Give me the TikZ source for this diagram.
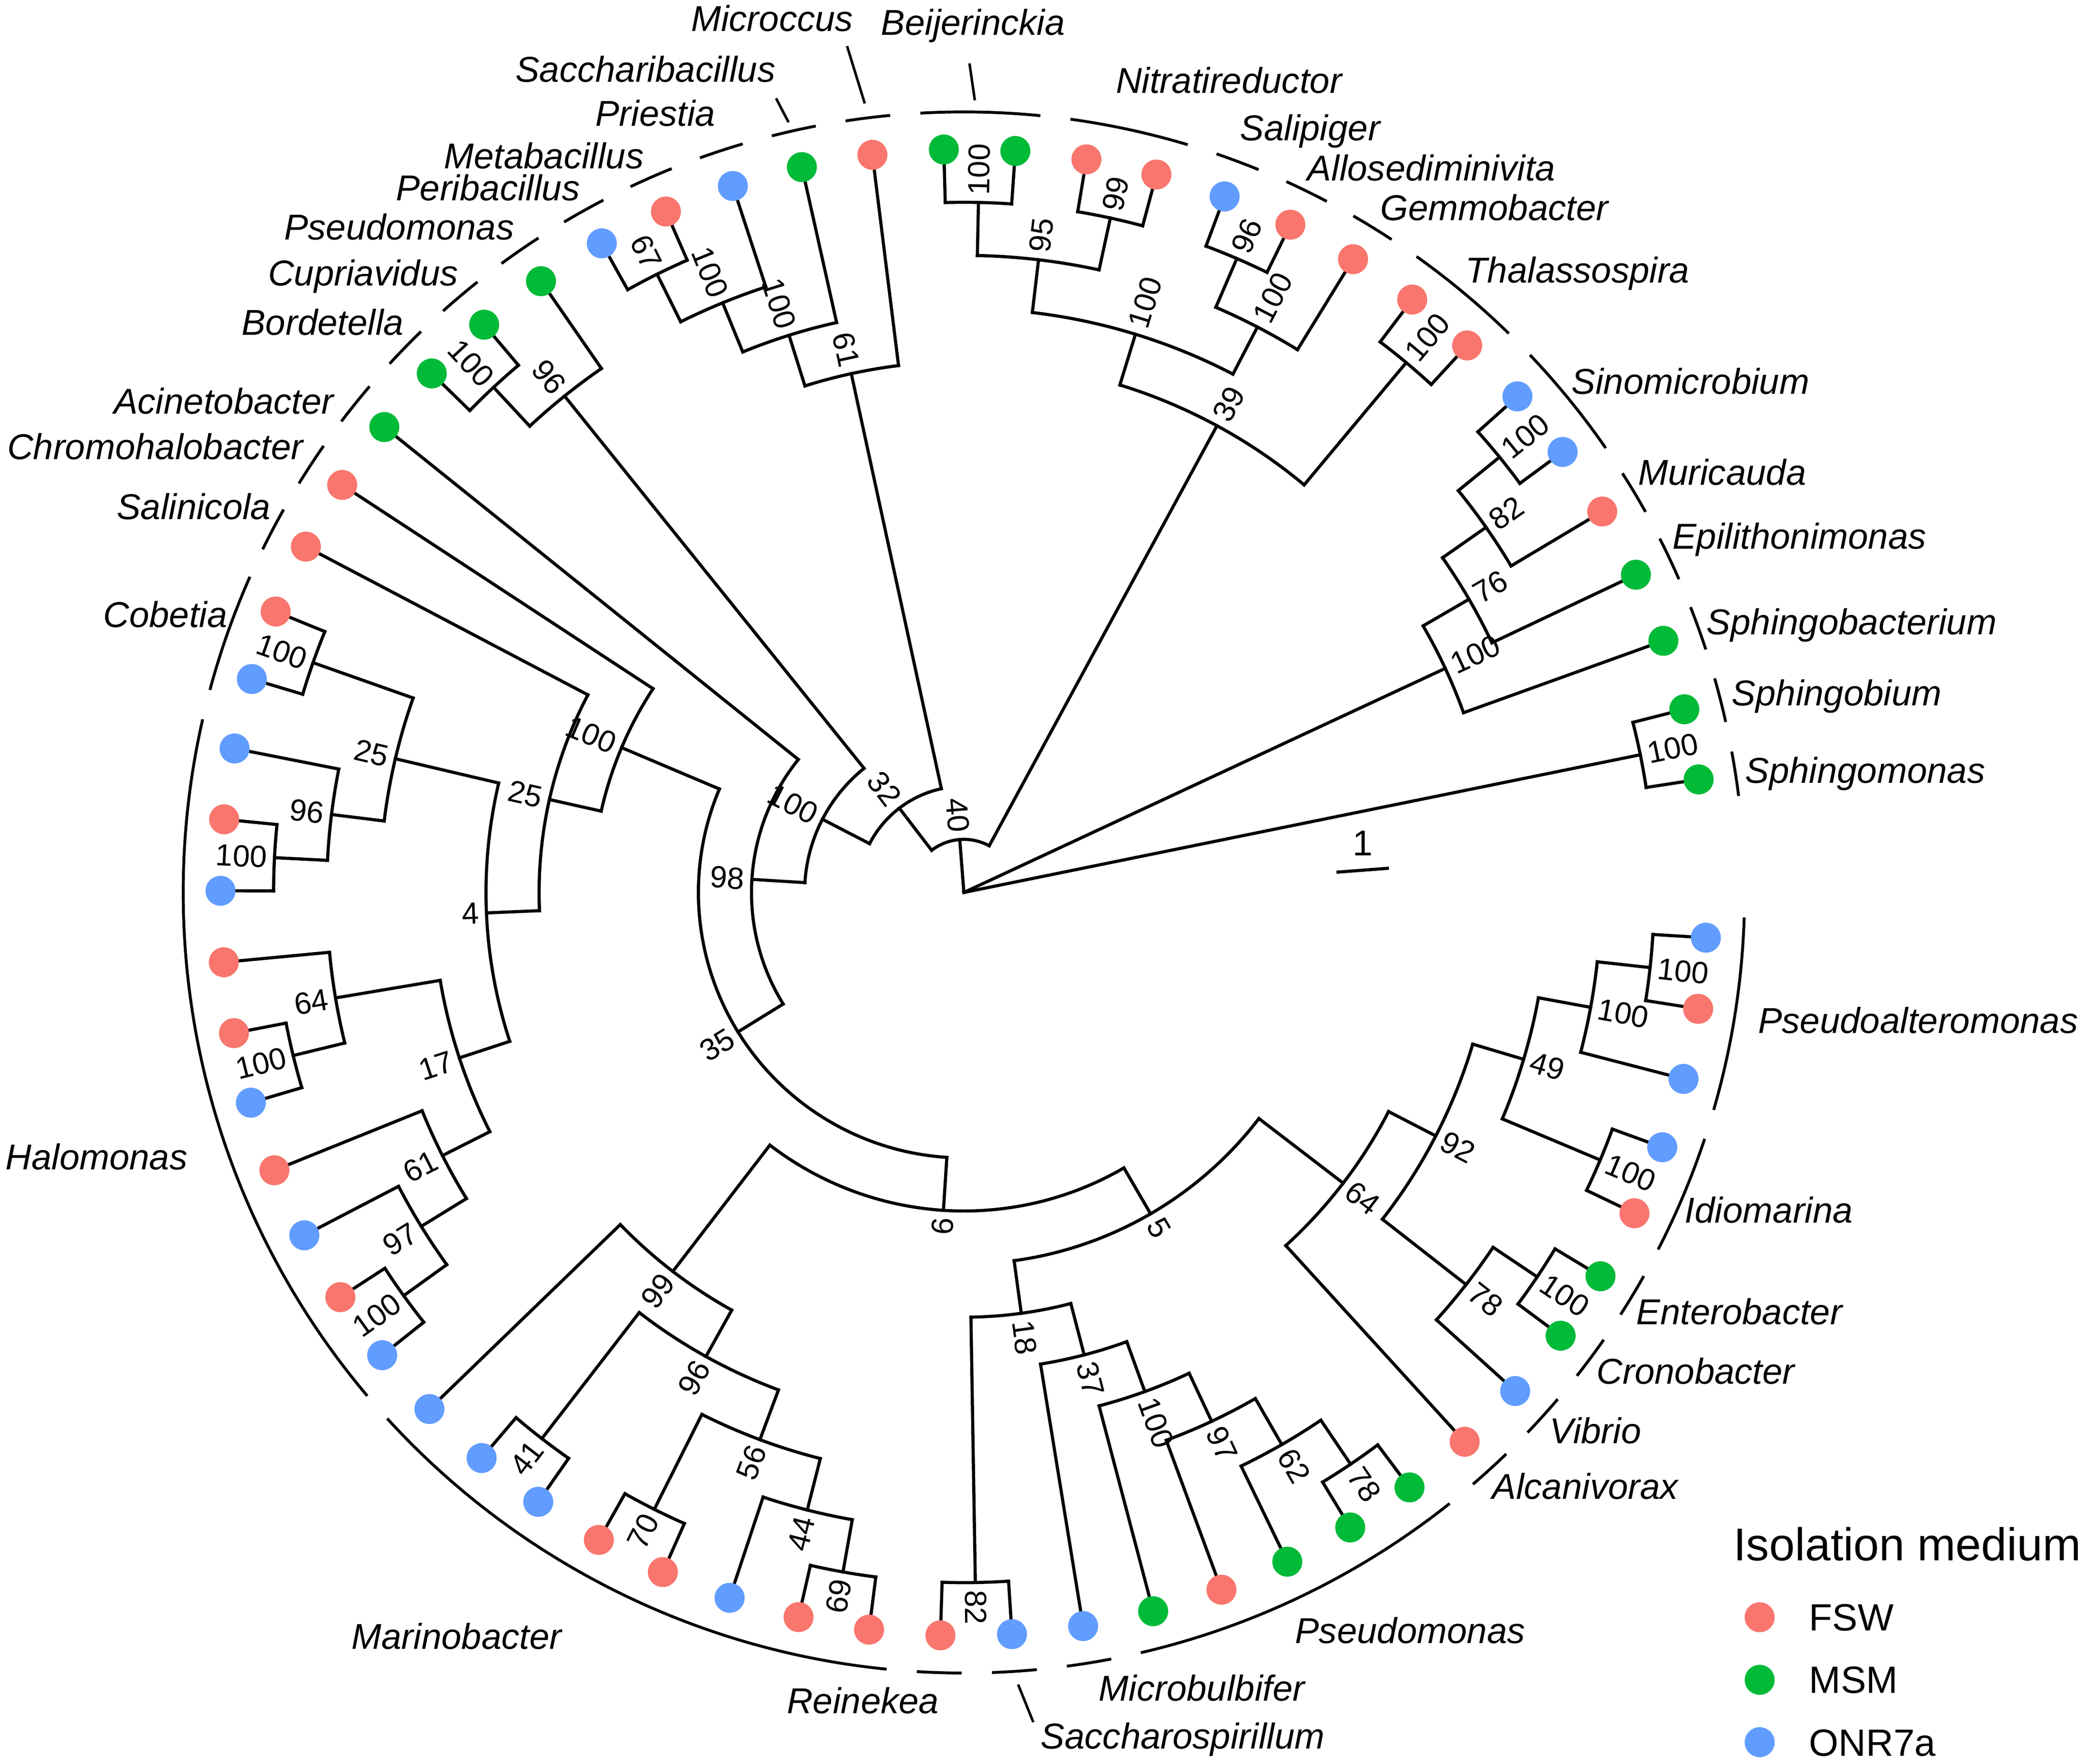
\documentclass[tikz,border=0pt]{standalone}
\usepackage{fontspec}
\setmainfont{Liberation Sans}
\usetikzlibrary{calc}
\definecolor{fsw}{HTML}{F8766D}
\definecolor{msm}{HTML}{00BA38}
\definecolor{onr}{HTML}{619CFF}
\newcommand\stepU{39.857}
\newcommand\rtip{558}
\newcommand\rstrip{586}
\tikzset{
  br/.style={line width=2.35pt, line cap=rect, line join=miter},
  stripe/.style={line width=2.15pt},
  leader/.style={line width=1.9pt},
  dotn/.style={circle, inner sep=0pt, minimum size=22.5pt, draw=none},
  bs/.style={inner sep=0pt, font=\fontsize{23}{23}\selectfont},
  gl/.style={inner sep=0pt, font=\fontsize{27}{27}\selectfont\itshape},
  lg/.style={inner sep=0pt, font=\fontsize{28.5}{28.5}\selectfont},
}
% internal node coordinate: name, level, angle
\newcommand\defnode[3]{\pgfmathsetmacro\myr{#2*\stepU}\coordinate (#1) at (#3:\myr pt);}
% clade: level, arc start, arc end, kid A, level A, kid B, level B
\newcommand\clade[7]{%
  \pgfmathsetmacro\myr{#1*\stepU}%
  \draw[br] (#2:\myr pt) arc[start angle=#2, end angle=#3, radius=\myr pt];
  \draw[br] ($(O)!#1/#5!(#4)$) -- (#4);
  \draw[br] ($(O)!#1/#7!(#6)$) -- (#6);
}
% bootstrap label: name, level, angle, text
\newcommand\blab[4]{%
  \pgfmathsetmacro\mylr{#2*\stepU+5.5}%
  \pgfmathtruncatemacro\myleft{and(#3>90,#3<270)}%
  \ifnum\myleft=1
    \pgfmathsetmacro\myang{#3-180}%
    \node[bs, anchor=east, rotate=\myang] (L#1) at (#3:\mylr pt) {#4};
  \else
    \node[bs, anchor=west, rotate=#3] (L#1) at (#3:\mylr pt) {#4};
  \fi}
% clade strip over tips i..j
\newcommand\cstrip[2]{%
  \pgfmathsetmacro\sa{8.75+(#1-1)*5.52-1.65}%
  \pgfmathsetmacro\se{8.75+(#2-1)*5.52+1.65}%
  \draw[stripe] (\sa:\rstrip pt) arc[start angle=\sa, end angle=\se, radius=\rstrip pt];}
\begin{document}
\begin{tikzpicture}[x=1pt,y=1pt]
\useasboundingbox (-723.5,-654) rectangle (844.5,670);
\coordinate (O) at (0,0);
% tips
\foreach \k in {1,...,64}{
  \pgfmathsetmacro\tipang{8.75+(\k-1)*5.52}
  \coordinate (T\k) at (\tipang:\rtip pt);
}
% internal nodes
\defnode{a1}{13}{11.51}
\defnode{a2}{13}{39.11}
\defnode{a3}{12}{34.97}
\defnode{a4}{11}{30.14}
\defnode{a5}{10}{24.965}
\defnode{b1}{13}{50.15}
\defnode{b2}{13}{66.71}
\defnode{b3}{12}{62.57}
\defnode{b4}{13}{77.75}
\defnode{b5}{13}{88.79}
\defnode{b6}{12}{83.27}
\defnode{b7}{11}{72.92}
\defnode{b8}{10}{61.535}
\defnode{c1}{13}{116.39}
\defnode{c2}{12}{112.25}
\defnode{c3}{11}{107.42}
\defnode{c4}{10}{102.245}
\defnode{d1}{13}{132.95}
\defnode{d2}{12}{128.81}
\defnode{e1}{13}{160.55}
\defnode{e2}{13}{177.11}
\defnode{e3}{12}{172.97}
\defnode{e4}{11}{166.76}
\defnode{e5}{13}{193.67}
\defnode{e6}{12}{189.53}
\defnode{e7}{13}{215.75}
\defnode{e8}{12}{211.61}
\defnode{e9}{11}{206.78}
\defnode{e10}{10}{198.155}
\defnode{e11}{9}{182.4575}
\defnode{e12}{8}{167.36}
\defnode{e13}{7}{157.06}
\defnode{f1}{13}{232.31}
\defnode{f2}{13}{243.35}
\defnode{f3}{13}{259.91}
\defnode{f4}{12}{255.77}
\defnode{f5}{11}{249.56}
\defnode{f6}{10}{240.935}
\defnode{f7}{9}{232.48}
\defnode{g1}{13}{270.95}
\defnode{g2}{13}{304.07}
\defnode{g3}{12}{299.93}
\defnode{g4}{11}{295.10}
\defnode{g5}{10}{289.925}
\defnode{g6}{9}{284.58}
\defnode{g7}{8}{277.765}
\defnode{h1}{13}{326.15}
\defnode{h2}{12}{322.01}
\defnode{h3}{13}{337.19}
\defnode{h4}{13}{353.75}
\defnode{h5}{12}{349.61}
\defnode{h6}{11}{343.40}
\defnode{h7}{10}{332.705}
\defnode{h8}{9}{322.53}
\defnode{k1}{7}{300.15}
\defnode{k2}{6}{266.315}
\defnode{k3}{5}{211.69}
\defnode{k4}{4}{176.46}
\defnode{k5}{3}{152.635}
\defnode{k6}{2}{127.44}
\defnode{k7}{1}{94.49}
% branches
\clade{13}{8.75}{14.27}{T1}{14}{T2}{14}
\clade{13}{36.35}{41.87}{T6}{14}{T7}{14}
\clade{12}{30.83}{39.11}{T5}{14}{a2}{13}
\clade{11}{25.31}{34.97}{T4}{14}{a3}{12}
\clade{10}{19.79}{30.14}{T3}{14}{a4}{11}
\clade{13}{47.39}{52.91}{T8}{14}{T9}{14}
\clade{13}{63.95}{69.47}{T11}{14}{T12}{14}
\clade{12}{58.43}{66.71}{T10}{14}{b2}{13}
\clade{13}{74.99}{80.51}{T13}{14}{T14}{14}
\clade{13}{86.03}{91.55}{T15}{14}{T16}{14}
\clade{12}{77.75}{88.79}{b4}{13}{b5}{13}
\clade{11}{62.57}{83.27}{b3}{12}{b6}{12}
\clade{10}{50.15}{72.92}{b1}{13}{b7}{11}
\clade{13}{113.63}{119.15}{T20}{14}{T21}{14}
\clade{12}{108.11}{116.39}{T19}{14}{c1}{13}
\clade{11}{102.59}{112.25}{T18}{14}{c2}{12}
\clade{10}{97.07}{107.42}{T17}{14}{c3}{11}
\clade{13}{130.19}{135.71}{T23}{14}{T24}{14}
\clade{12}{124.67}{132.95}{T22}{14}{d1}{13}
\clade{13}{157.79}{163.31}{T28}{14}{T29}{14}
\clade{13}{174.35}{179.87}{T31}{14}{T32}{14}
\clade{12}{168.83}{177.11}{T30}{14}{e2}{13}
\clade{11}{160.55}{172.97}{e1}{13}{e3}{12}
\clade{13}{190.91}{196.43}{T34}{14}{T35}{14}
\clade{12}{185.39}{193.67}{T33}{14}{e5}{13}
\clade{13}{212.99}{218.51}{T38}{14}{T39}{14}
\clade{12}{207.47}{215.75}{T37}{14}{e7}{13}
\clade{11}{201.95}{211.61}{T36}{14}{e8}{12}
\clade{10}{189.53}{206.78}{e6}{12}{e9}{11}
\clade{9}{166.76}{198.155}{e4}{11}{e10}{10}
\clade{8}{152.27}{182.4575}{T27}{14}{e11}{9}
\clade{7}{146.75}{167.36}{T26}{14}{e12}{8}
\clade{13}{229.55}{235.07}{T41}{14}{T42}{14}
\clade{13}{240.59}{246.11}{T43}{14}{T44}{14}
\clade{13}{257.15}{262.67}{T46}{14}{T47}{14}
\clade{12}{251.63}{259.91}{T45}{14}{f3}{13}
\clade{11}{243.35}{255.77}{f2}{13}{f4}{12}
\clade{10}{232.31}{249.56}{f1}{13}{f5}{11}
\clade{9}{224.03}{240.935}{T40}{14}{f6}{10}
\clade{13}{268.19}{273.71}{T48}{14}{T49}{14}
\clade{13}{301.31}{306.83}{T54}{14}{T55}{14}
\clade{12}{295.79}{304.07}{T53}{14}{g2}{13}
\clade{11}{290.27}{299.93}{T52}{14}{g3}{12}
\clade{10}{284.75}{295.10}{T51}{14}{g4}{11}
\clade{9}{279.23}{289.925}{T50}{14}{g5}{10}
\clade{8}{270.95}{284.58}{g1}{13}{g6}{9}
\clade{13}{323.39}{328.91}{T58}{14}{T59}{14}
\clade{12}{317.87}{326.15}{T57}{14}{h1}{13}
\clade{13}{334.43}{339.95}{T60}{14}{T61}{14}
\clade{13}{350.99}{356.51}{T63}{14}{T64}{14}
\clade{12}{345.47}{353.75}{T62}{14}{h4}{13}
\clade{11}{337.19}{349.61}{h3}{13}{h5}{12}
\clade{10}{322.01}{343.40}{h2}{12}{h6}{11}
\clade{9}{312.35}{332.705}{T56}{14}{h7}{10}
\clade{7}{277.765}{322.53}{g7}{8}{h8}{9}
\clade{6}{232.48}{300.15}{f7}{9}{k1}{7}
\clade{5}{157.06}{266.315}{e13}{7}{k2}{6}
\clade{4}{141.23}{211.69}{T25}{14}{k3}{5}
\clade{3}{128.81}{176.46}{d2}{12}{k4}{4}
\clade{2}{102.245}{152.635}{c4}{10}{k5}{3}
\clade{1}{61.535}{127.44}{b8}{10}{k6}{2}
\draw[br] (O) -- (a1);
\draw[br] (O) -- (a5);
\draw[br] (O) -- (k7);
% bootstrap labels
\blab{a1}{13}{11.51}{100}
\blab{a2}{13}{39.11}{100}
\blab{a3}{12}{34.97}{82}
\blab{a4}{11}{30.14}{76}
\blab{a5}{10}{24.965}{100}
\blab{b1}{13}{50.15}{100}
\blab{b2}{13}{66.71}{96}
\blab{b3}{12}{62.57}{100}
\blab{b4}{13}{77.75}{99}
\blab{b5}{13}{88.79}{100}
\blab{b6}{12}{83.27}{95}
\blab{b7}{11}{72.92}{100}
\blab{b8}{10}{61.535}{39}
\blab{c1}{13}{116.39}{67}
\blab{c2}{12}{112.25}{100}
\blab{c3}{11}{107.42}{100}
\blab{c4}{10}{102.245}{61}
\blab{d1}{13}{132.95}{100}
\blab{d2}{12}{128.81}{96}
\blab{e1}{13}{160.55}{100}
\blab{e2}{13}{177.11}{100}
\blab{e3}{12}{172.97}{96}
\blab{e4}{11}{166.76}{25}
\blab{e5}{13}{193.67}{100}
\blab{e6}{12}{189.53}{64}
\blab{e7}{13}{215.75}{100}
\blab{e8}{12}{211.61}{97}
\blab{e9}{11}{206.78}{61}
\blab{e10}{10}{198.155}{17}
\blab{e11}{9}{182.4575}{4}
\blab{e12}{8}{167.36}{25}
\blab{e13}{7}{157.06}{100}
\blab{f1}{13}{232.31}{41}
\blab{f2}{13}{243.35}{70}
\blab{f3}{13}{259.91}{69}
\blab{f4}{12}{255.77}{44}
\blab{f5}{11}{249.56}{56}
\blab{f6}{10}{240.935}{96}
\blab{f7}{9}{232.48}{99}
\blab{g1}{13}{270.95}{82}
\blab{g2}{13}{304.07}{78}
\blab{g3}{12}{299.93}{62}
\blab{g4}{11}{295.10}{97}
\blab{g5}{10}{289.925}{100}
\blab{g6}{9}{284.58}{37}
\blab{g7}{8}{277.765}{18}
\blab{h1}{13}{326.15}{100}
\blab{h2}{12}{322.01}{78}
\blab{h3}{13}{337.19}{100}
\blab{h4}{13}{353.75}{100}
\blab{h5}{12}{349.61}{100}
\blab{h6}{11}{343.40}{49}
\blab{h7}{10}{332.705}{92}
\blab{h8}{9}{322.53}{64}
\blab{k1}{7}{300.15}{5}
\blab{k2}{6}{266.315}{6}
\blab{k3}{5}{211.69}{35}
\blab{k4}{4}{176.46}{98}
\blab{k5}{3}{152.635}{100}
\blab{k6}{2}{127.44}{32}
\blab{k7}{1}{94.49}{40}
% tip dots
\foreach \k/\c in {1/msm,2/msm,3/msm,4/msm,5/fsw,6/onr,7/onr,8/fsw,9/fsw,10/fsw,
  11/fsw,12/onr,13/fsw,14/fsw,15/msm,16/msm,17/fsw,18/msm,19/onr,20/fsw,
  21/onr,22/msm,23/msm,24/msm,25/msm,26/fsw,27/fsw,28/fsw,29/onr,30/onr,
  31/fsw,32/onr,33/fsw,34/fsw,35/onr,36/fsw,37/onr,38/fsw,39/onr,40/onr,
  41/onr,42/onr,43/fsw,44/fsw,45/onr,46/fsw,47/fsw,48/fsw,49/onr,50/onr,
  51/msm,52/fsw,53/msm,54/msm,55/msm,56/fsw,57/onr,58/msm,59/msm,60/fsw,
  61/onr,62/onr,63/fsw,64/onr}{
  \node[dotn, fill=\c] (D\k) at (T\k) {};
}
% clade strips
\cstrip{1}{1}\cstrip{2}{2}\cstrip{3}{3}\cstrip{4}{4}\cstrip{5}{5}
\cstrip{6}{7}\cstrip{8}{9}\cstrip{10}{10}\cstrip{11}{11}\cstrip{12}{12}
\cstrip{13}{14}\cstrip{15}{16}\cstrip{17}{17}\cstrip{18}{18}\cstrip{19}{19}
\cstrip{20}{20}\cstrip{21}{21}\cstrip{22}{22}\cstrip{23}{23}\cstrip{24}{24}
\cstrip{25}{25}\cstrip{26}{26}\cstrip{27}{27}\cstrip{28}{29}\cstrip{30}{39}
\cstrip{40}{47}\cstrip{48}{48}\cstrip{49}{49}\cstrip{50}{50}\cstrip{51}{55}
\cstrip{56}{56}\cstrip{57}{57}\cstrip{58}{58}\cstrip{59}{59}\cstrip{60}{61}
\cstrip{62}{64}
% labels and legend in image coordinates
\begin{scope}[shift={(-723.5,670)}, yscale=-1]
  \coordinate (m1) at (649.1,77.7);  \coordinate (m2) at (635.8,34.6);
  \coordinate (be1) at (731.7,75.3); \coordinate (be2) at (727.7,47.6);
  \coordinate (sb1) at (591.9,91.8); \coordinate (sb2) at (582.5,73.8);
  \coordinate (ss1) at (764.2,1264.6); \coordinate (ss2) at (775.6,1292.9);
  \draw[leader] (m1) -- (m2);
  \draw[leader] (be1) -- (be2);
  \draw[leader] (sb1) -- (sb2);
  \draw[leader] (ss1) -- (ss2);
  \node[gl, anchor=base west] (G1) at (1309.7,588) {Sphingomonas};
  \node[gl, anchor=base west] (G2) at (1299.7,529.8) {Sphingobium};
  \node[gl, anchor=base west] (G3) at (1280.8,476.5) {Sphingobacterium};
  \node[gl, anchor=base west] (G4) at (1255.1,411.9) {Epilithonimonas};
  \node[gl, anchor=base west] (G5) at (1229.4,364.3) {Muricauda};
  \node[gl, anchor=base west] (G6) at (1179.4,295.7) {Sinomicrobium};
  \node[gl, anchor=base west] (G7) at (1099.8,212.3) {Thalassospira};
  \node[gl, anchor=base west] (G8) at (1035.9,165.6) {Gemmobacter};
  \node[gl, anchor=base west] (G9) at (981.2,135.5) {Allosediminivita};
  \node[gl, anchor=base west] (G10) at (930.6,105.4) {Salipiger};
  \node[gl, anchor=base west] (G11) at (837.4,69.9) {Nitratireductor};
  \node[gl, anchor=base west] (G12) at (661.1,26.5) {Beijerinckia};
  \node[gl, anchor=base west] (G13) at (518.6,23.5) {Microccus};
  \node[gl, anchor=base west] (G14) at (386.7,61.7) {Saccharibacillus};
  \node[gl, anchor=base west] (G15) at (446.7,94.8) {Priestia};
  \node[gl, anchor=base west] (G16) at (333,126.5) {Metabacillus};
  \node[gl, anchor=base west] (G17) at (297,150.5) {Peribacillus};
  \node[gl, anchor=base west] (G18) at (213.1,180) {Pseudomonas};
  \node[gl, anchor=base west] (G19) at (201.1,214.4) {Cupriavidus};
  \node[gl, anchor=base west] (G20) at (181.2,251.4) {Bordetella};
  \node[gl, anchor=base west] (G21) at (85.2,310.7) {Acinetobacter};
  \node[gl, anchor=base west] (G22) at (5.3,344.8) {Chromohalobacter};
  \node[gl, anchor=base west] (G23) at (87.4,389.9) {Salinicola};
  \node[gl, anchor=base west] (G24) at (77.3,471) {Cobetia};
  \node[gl, anchor=base west] (G25) at (4,877.9) {Halomonas};
  \node[gl, anchor=base west] (G26) at (263.7,1238) {Marinobacter};
  \node[gl, anchor=base west] (G27) at (590.5,1286.5) {Reinekea};
  \node[gl, anchor=base west] (G28) at (781,1313) {Saccharospirillum};
  \node[gl, anchor=base west] (G29) at (824.6,1277) {Microbulbifer};
  \node[gl, anchor=base west] (G30) at (971.9,1233.7) {Pseudomonas};
  \node[gl, anchor=base west] (G31) at (1119.8,1125.6) {Alcanivorax};
  \node[gl, anchor=base west] (G32) at (1163.1,1083.8) {Vibrio};
  \node[gl, anchor=base west] (G33) at (1198.3,1039.1) {Cronobacter};
  \node[gl, anchor=base west] (G34) at (1228,994.4) {Enterobacter};
  \node[gl, anchor=base west] (G35) at (1264.5,918) {Idiomarina};
  \node[gl, anchor=base west] (G36) at (1319.4,775.5) {Pseudoalteromonas};
  % scale bar
  \coordinate (sc1) at (1003.1,654.8); \coordinate (sc2) at (1042.5,651.8);
  \draw[br, line cap=butt] (sc1) -- (sc2);
  \node[inner sep=0pt, anchor=base, font=\fontsize{27}{27}\selectfont] (SC) at (1023,642.2) {1};
  % legend
  \node[inner sep=0pt, anchor=base west, font=\fontsize{34.5}{34.5}\selectfont] (LT) at (1301,1171.7) {Isolation medium};
  \node[dotn, fill=fsw] (LD1) at (1320.8,1214.1) {};
  \node[dotn, fill=msm] (LD2) at (1320.8,1261.1) {};
  \node[dotn, fill=onr] (LD3) at (1320.8,1307.9) {};
  \node[lg, anchor=base west] (LX1) at (1357.8,1224.2) {FSW};
  \node[lg, anchor=base west] (LX2) at (1357.8,1271.2) {MSM};
  \node[lg, anchor=base west] (LX3) at (1357.8,1318.2) {ONR7a};
\end{scope}
\end{tikzpicture}
\end{document}
